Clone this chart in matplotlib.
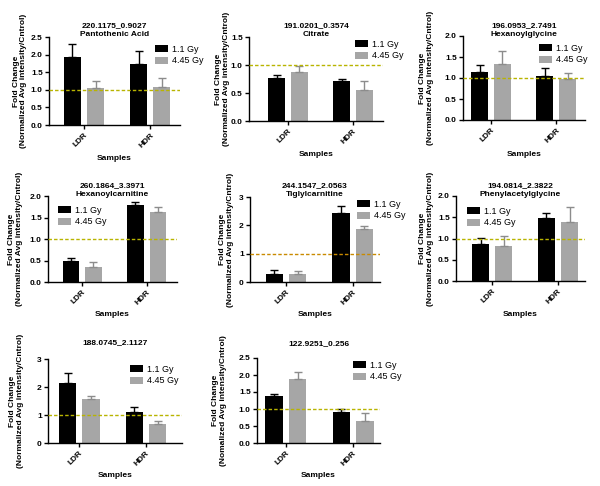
import matplotlib
matplotlib.use("Agg")
import matplotlib.pyplot as plt
from matplotlib.patches import Patch
import numpy as np

plt.rcParams['font.family'] = ['Liberation Sans', 'DejaVu Sans']

groups = ["LDR", "HDR"]
doses = ["1.1 Gy", "4.45 Gy"]

titles = [
    "220.1175_0.9027\nPantothenic Acid",
    "191.0201_0.3574\nCitrate",
    "196.0953_2.7491\nHexanoylglycine",
    "260.1864_3.3971\nHexanoylcarnitine",
    "244.1547_2.0563\nTiglylcarnitine",
    "194.0814_2.3822\nPhenylacetylglycine",
    "188.0745_2.1127",
    "122.9251_0.256",
]

# means [LDR, HDR] for 1.1 Gy and 4.45 Gy
mean_low = [[1.92, 1.73], [0.77, 0.71], [1.15, 1.05], [0.50, 1.78],
            [0.28, 2.45], [0.88, 1.48], [2.13, 1.12], [1.39, 0.91]]
mean_high = [[1.05, 1.09], [0.875, 0.56], [1.325, 0.98], [0.34, 1.63],
             [0.27, 1.86], [0.83, 1.39], [1.57, 0.69], [1.87, 0.64]]
err_low = [[0.38, 0.36], [0.05, 0.04], [0.16, 0.18], [0.06, 0.08],
           [0.16, 0.23], [0.14, 0.13], [0.38, 0.15], [0.04, 0.10]]
err_high = [[0.20, 0.24], [0.11, 0.15], [0.31, 0.13], [0.12, 0.12],
            [0.11, 0.10], [0.23, 0.36], [0.11, 0.08], [0.21, 0.24]]
ymax = [2.5, 1.5, 2.0, 2.0, 3.0, 2.0, 3.0, 2.5]
ystep = [0.5, 0.5, 0.5, 0.5, 1.0, 0.5, 1.0, 0.5]
ylabels = ["Fold Change\n(Normalized Avg intensity/Cntrol)"] * 7 + \
          ["Fold Change\n(Nomalized Avg intensity/Cntrol)"]
ref_colors = ["#b8b400"] * 4 + ["#c98a00"] + ["#b8b400"] * 3

# layout in pixels: axis left, right, bottom, top
W, H = 600, 486
boxes = [(49, 180, 125, 37), (249, 383, 121, 37), (463, 585, 120, 36),
         (48, 177, 282, 196), (250, 380, 282, 197), (456, 585, 281, 196),
         (48, 182, 443, 359), (257, 380, 443, 358)]
xlims = [(-0.53, 1.45), (-0.60, 1.46), (-0.43, 1.44), (-0.53, 1.47),
         (-0.54, 1.41), (-0.55, 1.41), (-0.47, 1.54), (-0.43, 1.40)]
title_y = [30, 30, 30, 190, 190, 190, 343, 344]
samples_y = [158, 154, 154, 315, 315, 315, 475, 475]
ylab_x = [20, 222, 427, 16, 226, 427, 17, 220]
legend_xy = [(155, 45), (355, 40), (539, 44), (58, 206), (357, 200),
             (467, 207), (130, 365), (353, 361)]

fig = plt.figure(figsize=(6, 4.86), dpi=100)
fs = 6
for i in range(8):
    l, r, b, t = boxes[i]
    ax = fig.add_axes([l / W, 1 - b / H, (r - l) / W, (b - t) / H])
    x = np.arange(len(groups))
    w = 0.26
    off = 0.175
    ax.bar(x - off, mean_low[i], w, color="black", zorder=2)
    ax.bar(x + off, mean_high[i], w, color="#a6a6a6", zorder=2)
    ax.errorbar(x - off, mean_low[i], yerr=[np.zeros(2), err_low[i]], fmt="none",
                ecolor="black", elinewidth=1, capsize=3, capthick=1, zorder=3)
    ax.errorbar(x + off, mean_high[i], yerr=[np.zeros(2), err_high[i]], fmt="none",
                ecolor="#8c8c8c", elinewidth=1, capsize=3, capthick=1, zorder=3)
    ax.axhline(1.0, color=ref_colors[i], ls=(0, (2.5, 1.5)), lw=1, zorder=4)
    ax.set_xlim(*xlims[i])
    ax.set_ylim(0, ymax[i])
    ax.set_yticks(np.arange(0, ymax[i] + 1e-9, ystep[i]))
    if ystep[i] < 1:
        ax.set_yticklabels([f"{v:.1f}" for v in np.arange(0, ymax[i] + 1e-9, ystep[i])])
    ax.set_xticks(x)
    ax.set_xticklabels(groups, rotation=45, ha="right", rotation_mode="anchor")
    for sp in ["top", "right"]:
        ax.spines[sp].set_visible(False)
    for sp in ["left", "bottom"]:
        ax.spines[sp].set_linewidth(1)
    ax.tick_params(axis="both", labelsize=fs, width=1, length=3, pad=1.5)
    for lab in ax.get_xticklabels() + ax.get_yticklabels():
        lab.set_fontweight("bold")
    cx = (l + r) / 2 / W
    fig.text(cx, 1 - title_y[i] / H, titles[i], ha="center", va="center",
             fontsize=fs, fontweight="bold", linespacing=1.3)
    fig.text(cx, 1 - samples_y[i] / H, "Samples", ha="center", va="center",
             fontsize=fs, fontweight="bold")
    fig.text(ylab_x[i] / W, 1 - ((b + t) / 2) / H, ylabels[i], ha="center",
             va="center", rotation=90, fontsize=fs, fontweight="bold",
             linespacing=1.2)
    handles = [Patch(facecolor="black"), Patch(facecolor="#a6a6a6")]
    lx, ly = legend_xy[i]
    ax.legend(handles, doses, loc="upper left",
              bbox_to_anchor=(lx / W, 1 - ly / H), bbox_transform=fig.transFigure,
              frameon=False, borderpad=0, borderaxespad=0, fontsize=fs + 0.5,
              handlelength=1.45, handleheight=0.8, handletextpad=0.4,
              labelspacing=0.25)

fig.savefig("out.png", dpi=100)
